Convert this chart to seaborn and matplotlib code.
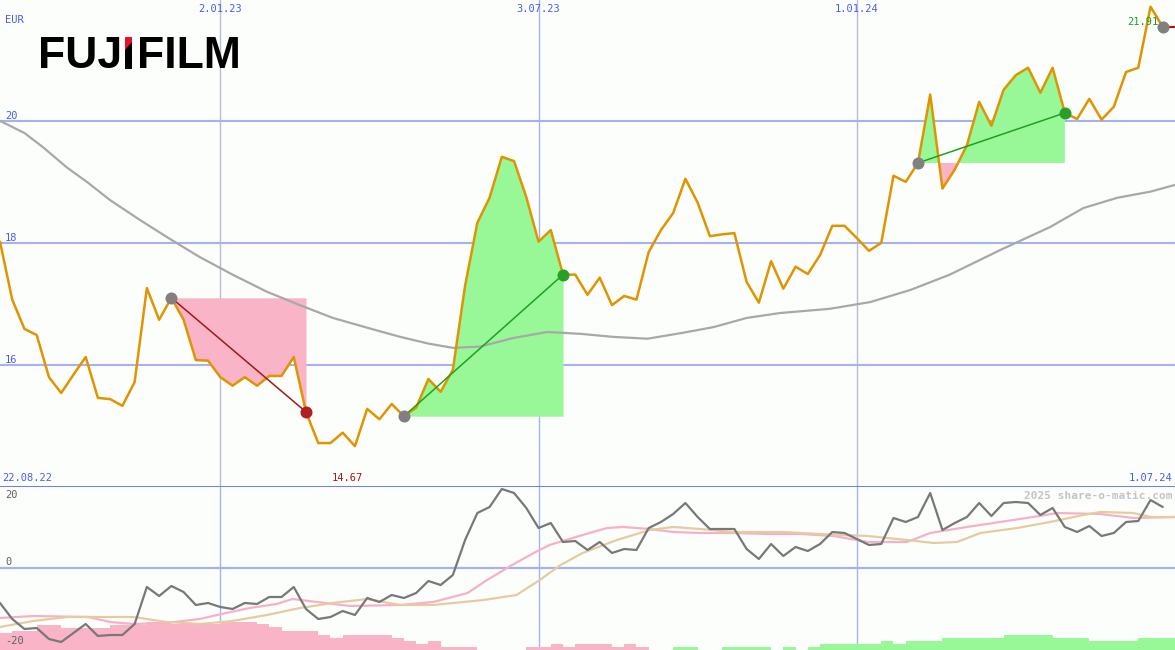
import numpy as np
import pandas as pd
import matplotlib
matplotlib.use("Agg")
import matplotlib.pyplot as plt
from matplotlib.patches import Polygon
import seaborn as sns

# ---- data (weekly, week 0 = 29.08.22) ----
price = [18.02, 17.07, 16.59, 16.49, 15.80, 15.54, 15.84, 16.13, 15.46, 15.44,
         15.33, 15.72, 17.26, 16.74, 17.10, 16.74, 16.08, 16.07, 15.80, 15.66,
         15.80, 15.66, 15.82, 15.82, 16.13, 15.23, 14.72, 14.72, 14.89, 14.67,
         15.28, 15.11, 15.36, 15.16, 15.30, 15.77, 15.56, 15.92, 17.30, 18.33,
         18.74, 19.41, 19.34, 18.75, 18.02, 18.21, 17.48, 17.48, 17.15, 17.43,
         16.98, 17.13, 17.07, 17.85, 18.21, 18.49, 19.05, 18.66, 18.11, 18.14,
         18.16, 17.36, 17.02, 17.70, 17.25, 17.61, 17.49, 17.80, 18.28, 18.28,
         18.08, 17.87, 18.00, 19.10, 19.00, 19.31, 20.43, 18.89, 19.20, 19.60,
         20.31, 19.92, 20.51, 20.75, 20.87, 20.46, 20.87, 20.13, 20.03, 20.36,
         20.02, 20.23, 20.80, 20.87, 21.87, 21.54]

# moving average (read at some weeks)
ma_wk = [0, 2.0, 3.5, 5.5, 7.1, 9.0, 11.4, 13.6, 16.3, 19.0, 21.8, 24.5, 27.2, 30.0,
         32.7, 35.0, 37.0, 39.2, 41.9, 44.7, 47.4, 50.1, 52.9, 55.6, 58.3, 61.0, 63.7,
         67.8, 71.1, 74.4, 77.6, 81.9, 85.8, 88.5, 91.3, 94.0, 96.0]
ma_val = [20.0, 19.8, 19.57, 19.23, 19.0, 18.70, 18.38, 18.10, 17.77, 17.48, 17.20,
          16.98, 16.77, 16.61, 16.46, 16.35, 16.28, 16.30, 16.44, 16.54, 16.51, 16.46,
          16.43, 16.52, 16.62, 16.77, 16.85, 16.92, 17.03, 17.23, 17.48, 17.90, 18.26,
          18.57, 18.74, 18.84, 18.95]

# lower panel: momentum, two averages, signal bars
momentum = [-8.75, -12.75, -15.25, -15.0, -17.75, -18.5, -16.25, -14.0, -17.0, -16.75,
            -16.75, -14.0, -4.75, -7.0, -4.5, -6.0, -9.25, -8.75, -9.75, -10.25,
            -8.75, -9.0, -7.25, -7.25, -4.75, -10.25, -12.75, -12.25, -10.75, -11.75,
            -7.5, -8.5, -6.75, -7.5, -6.25, -3.25, -4.25, -1.75, 7.0, 13.75,
            15.25, 19.75, 18.75, 15.0, 10.0, 11.25, 6.5, 6.75, 4.5, 6.5,
            3.75, 4.75, 4.5, 10.0, 11.5, 13.5, 16.25, 12.75, 9.75, 9.75,
            9.75, 4.75, 2.25, 6.0, 3.0, 5.25, 4.25, 6.0, 9.0, 8.75,
            7.25, 5.75, 6.0, 12.5, 11.5, 12.75, 18.75, 9.5, 11.25, 12.75,
            16.25, 13.0, 16.25, 16.5, 16.25, 13.25, 15.0, 10.25, 9.0, 10.5,
            8.0, 8.75, 11.5, 11.75, 17.0, 15.25]

fast_wk = [0, 2.7, 7.2, 9.0, 10.9, 13.6, 16.3, 18.1, 20.4, 22.6, 23.9, 25.9, 28.6, 32.7,
           35.4, 38.2, 39.8, 41.7, 43.6, 44.9, 47.6, 49.6, 50.9, 53.1, 55.0, 57.2, 59.9,
           62.7, 65.4, 68.1, 70.9, 74.1, 76.0, 79.0, 81.7, 84.4, 86.4, 89.9, 92.6, 96.0]
fast_val = [-12.5, -12.0, -12.25, -13.5, -14.0, -13.75, -12.75, -11.5, -10.0, -9.0, -7.75,
            -8.5, -9.5, -9.25, -8.5, -6.25, -3.0, 0.5, 3.75, 5.75, 8.25, 10.0, 10.25, 9.75,
            9.0, 8.75, 8.75, 8.5, 8.5, 8.0, 6.5, 6.5, 8.75, 10.25, 11.5, 12.75, 13.75, 13.5,
            12.5, 12.75]

slow_wk = [0, 2.7, 5.5, 10.9, 13.6, 16.3, 19.0, 21.8, 24.5, 27.2, 30.0, 32.7, 35.4, 39.5,
           42.2, 44.1, 45.8, 47.6, 50.4, 53.1, 55.0, 57.2, 59.9, 64.0, 67.0, 70.9, 74.1,
           76.3, 78.2, 80.1, 83.1, 85.8, 88.5, 89.9, 92.6, 94.0, 96.0]
slow_val = [-14.75, -13.25, -12.25, -12.25, -13.5, -14.0, -13.25, -11.75, -10.0, -8.75,
            -7.75, -9.25, -9.25, -8.0, -6.75, -3.0, 0.75, 3.75, 7.0, 9.5, 10.25, 9.75,
            9.0, 9.0, 8.5, 8.0, 7.0, 6.25, 6.5, 8.75, 10.0, 11.5, 13.25, 14.0, 13.75,
            12.75, 12.75]

signal = [-4.25, -4.75, -4.75, -6.25, -6.25, -5.5, -5.5, -5.5, -5.5, -6.25,
          -6.25, -6.25, -7.0, -7.0, -6.5, -6.5, -6.5, -6.5, -7.0, -7.0,
          -7.0, -6.5, -5.75, -4.75, -4.75, -4.75, -3.75, -3.0, -3.75, -3.75,
          -3.75, -3.75, -3.0, -2.25, -1.5, -2.25, -0.75, -0.75, -0.75, 0,
          0, 0, 0, -0.75, -0.75, -1.5, -0.75, -1.5, -1.5, -1.5,
          -0.75, -1.5, -0.75, 0, 0, 0.75, 0.75, 0, 0, 0.75,
          0.75, 0.75, 0.75, 0, 0.75, 0, 0.75, 1.5, 1.5, 1.5,
          1.5, 1.5, 2.25, 1.5, 2.25, 2.25, 2.25, 3.0, 3.0, 3.0,
          3.0, 3.0, 3.75, 3.75, 3.75, 3.75, 3.0, 3.0, 3.0, 2.25,
          2.25, 2.25, 2.25, 3.0, 3.0, 3.0]

trades = [(14, 25), (33, 46), (75, 87)]   # entry week, exit week
open_trade = 95
start = pd.Timestamp("2022-08-29")
date_lines = ["2023-01-02", "2023-07-03", "2024-01-01"]
date_labels = ["2.01.23", "3.07.23", "1.01.24"]
price_ticks = [20, 18, 16]
osc_ticks = [20, 0, -20]
hi_label, lo_label, lo_week = "21.91", "14.67", 28.4

# ---- style ----
sns.set_theme(style="white")
plt.rcParams["font.family"] = ["DejaVu Sans Mono"]
bg = "#fcfefc"
blue_txt = "#4a5cf0"
grid_c = "#a4b2f0"
orange = "#e09400"
pink = "#f9b4c8"
green = "#98f898"
W, H = 1175, 650

weeks = np.arange(len(price))
price = np.array(price)

fig = plt.figure(figsize=(W / 100, H / 100), dpi=100, facecolor=bg)
ax1 = fig.add_axes([0, 163 / H, 1, 487 / H])
ax2 = fig.add_axes([0, 0, 1, 163 / H])
for ax in (ax1, ax2):
    ax.set_facecolor(bg)
    ax.set_xlim(0, 96.0)
    ax.set_xticks([])
    ax.set_yticks([])
    for s in ax.spines.values():
        s.set_visible(False)
ax1.set_ylim(14.0, 21.98)
ax2.set_ylim(-20.5, 20.25)

dl_pos = [(pd.Timestamp(d) - start).days / 7 for d in date_lines]
for k, xp in enumerate(dl_pos):
    c = grid_c if k == 1 else "#b8bcd4"
    ax1.axvline(xp, color=c, lw=1.0, zorder=1)
    ax2.axvline(xp, color=grid_c, lw=1.0, zorder=1)
    ax1.text(xp, 1 - 9 / 487, date_labels[k], transform=ax1.get_xaxis_transform(),
             ha="center", va="center", fontsize=7.5, color=blue_txt)
for v in price_ticks:
    ax1.axhline(v, color=grid_c, lw=1.5, zorder=1)
    ax1.text(5 / W, v + 5 / 61, str(v), transform=ax1.get_yaxis_transform(),
             ha="left", va="center", fontsize=7.5, color=blue_txt)
ax1.axhline(14.0, color="#7080f0", lw=2.2, zorder=5, clip_on=False)
ax1.text(5 / W, 1 - 20 / 487, "EUR", transform=ax1.transAxes, fontsize=7.5,
         color=blue_txt, ha="left", va="center")
ax1.text(2 / W, 9 / 487, "22.08.22", transform=ax1.transAxes, fontsize=7.5,
         color=blue_txt, ha="left", va="center")
ax1.text(1172 / W, 9 / 487, "1.07.24", transform=ax1.transAxes, fontsize=7.5,
         color=blue_txt, ha="right", va="center")
ax1.text(lo_week, 9 / 487, lo_label, transform=ax1.get_xaxis_transform(), fontsize=7.5,
         color="#a01818", ha="center", va="center")
ax1.text(1158 / W, 1 - 22 / 487, hi_label, transform=ax1.transAxes, fontsize=7.5,
         color="#20a020", ha="right", va="center", zorder=6)

# trades
for a, b in trades:
    xs = weeks[a:b + 1]
    ys = price[a:b + 1]
    entry = price[a]
    ax1.fill_between(xs, ys, entry, where=ys >= entry, interpolate=True,
                     color=green, lw=0, zorder=2)
    ax1.fill_between(xs, ys, entry, where=ys <= entry, interpolate=True,
                     color=pink, lw=0, zorder=2)

sns.lineplot(x=ma_wk, y=ma_val, ax=ax1, color="#a8a8a8", lw=1.6, zorder=3)
sns.lineplot(x=weeks, y=price, ax=ax1, color=orange, lw=1.8, zorder=4)

for a, b in trades:
    win = price[b] > price[a]
    lc = "#20a020" if win else "#a01818"
    ax1.plot([a, b], [price[a], price[b]], color=lc, lw=1.1, zorder=5)
    ax1.scatter([a], [price[a]], s=75, color="#808080", lw=0, zorder=6)
    ax1.scatter([b], [price[b]], s=75, color="#28a028" if win else "#b02020",
                lw=0, zorder=6)
ax1.plot([open_trade, 96.0], [price[open_trade]] * 2, color="#a01818", lw=1.6, zorder=5)
ax1.scatter([open_trade], [price[open_trade]], s=75, color="#808080", lw=0, zorder=6)

# lower panel
sig = np.array(signal)
ax2.bar(weeks, np.abs(sig), width=1.0, align="edge", bottom=-20.5,
        color=np.where(sig < 0, pink, green), lw=0, zorder=2)
ax2.axhline(0, color=grid_c, lw=1.6, zorder=1)
sns.lineplot(x=fast_wk, y=fast_val, ax=ax2, color="#f8b0c8", lw=1.6, zorder=3)
sns.lineplot(x=slow_wk, y=slow_val, ax=ax2, color="#e4cca0", lw=1.6, zorder=3)
sns.lineplot(x=weeks, y=momentum, ax=ax2, color="#787878", lw=1.6, zorder=4)
for v, yp in zip(osc_ticks, [495, 562, 641]):
    ax2.text(5 / W, (650 - yp) / 163, str(v), transform=ax2.transAxes,
             fontsize=7.5, color="#606060", ha="left", va="center")
ax2.text(1172 / W, (650 - 496) / 163, "2025 share-o-matic.com", transform=ax2.transAxes,
         fontsize=8, color="#c4c4c4", ha="right", va="center", fontweight="bold", zorder=6)

# logo: "FUJ", a drawn I with red top, then "FILM"
r = fig.canvas.get_renderer()
logo_font = dict(fontsize=32, fontweight="bold", family=["Liberation Sans", "DejaVu Sans"],
                 color="black", va="baseline", zorder=10)
base, cap_top = 68.5, 37.0
t = fig.text(38 / W, 1 - base / H, "FUJ", **logo_font)
jx = t.get_window_extent(r).x1
i0, i1 = jx + 3, jx + 10


def px(x, y):
    return (x / W, 1 - y / H)


stem = Polygon([px(i0, base), px(i0, cap_top), px(i1, cap_top), px(i1, base)],
               closed=True, transform=fig.transFigure, facecolor="black", lw=0, zorder=10)
red = Polygon([px(i0, cap_top + 13), px(i0, cap_top), px(i1, cap_top), px(i1, cap_top + 5)],
              closed=True, transform=fig.transFigure, facecolor="#e8102a", lw=0, zorder=11)
fig.add_artist(stem)
fig.add_artist(red)
fig.text((i1 + 5) / W, 1 - base / H, "FILM", **logo_font)

fig.savefig("out.png", dpi=100, facecolor=bg)
